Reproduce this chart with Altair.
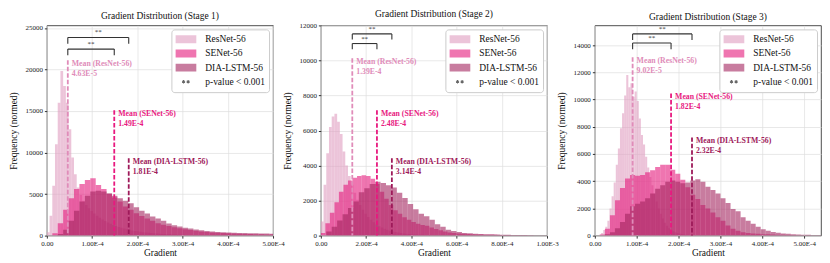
import math
import altair as alt
import pandas as pd

# ---------------- data ----------------
MODELS = ["ResNet-56", "SENet-56", "DIA-LSTM-56"]
PVAL = "p-value < 0.001"
STAGES = ["Gradient Distribution (Stage 1)",
          "Gradient Distribution (Stage 2)",
          "Gradient Distribution (Stage 3)"]

BIN_WIDTHS = [[0.06e-4, 0.12e-4, 0.12e-4],
              [0.12e-4, 0.20e-4, 0.24e-4],
              [0.05e-4, 0.12e-4, 0.12e-4]]

S1_RESNET = [400, 2400, 6000, 11000, 16000, 19800, 18000, 16000, 12800, 9400,
             7400, 5800, 4900, 4200, 3700, 3300, 2950, 2650, 2380, 2150,
             1950, 1760, 1590, 1430, 1290, 1160, 1040, 940, 850, 770,
             700, 630, 570, 515, 465, 420, 380, 345, 310, 280,
             255, 230, 210, 190, 170, 155, 140, 125, 112, 100,
             90, 80, 72, 65, 58, 52, 47, 42, 38, 34,
             30, 27, 24, 22, 20, 18, 16, 14, 13, 12,
             11, 10, 9, 8, 7, 6, 6, 5, 5, 4, 4, 3, 3]
S1_SENET = [0, 300, 1500, 3100, 4500, 5600, 6200, 6700, 6900, 6100,
            5600, 5000, 4600, 4100, 3500, 3100, 2700, 2350, 2050, 1800,
            1500, 1300, 1150, 1000, 880, 780, 680, 580, 500, 440,
            390, 350, 310, 280, 250, 230, 210, 195, 180, 165, 150, 140]
S1_DIA = [0, 0, 200, 700, 1800, 3000, 4100, 4800, 5300, 5400,
          5300, 5100, 4800, 4500, 4200, 3900, 3400, 3000, 2650, 2300,
          2050, 1800, 1450, 1250, 1100, 950, 850, 750, 650, 570,
          500, 450, 410, 380, 350, 330, 310, 295, 280, 265, 250, 240]

S2_RESNET = [800, 2900, 4700, 6200, 6800, 6950, 6500, 5800, 4800, 4000,
             3400, 2900, 2450, 2050, 1750, 1480, 1250, 1060, 900, 760,
             640, 540, 460, 390, 330, 280, 240, 205, 175, 150,
             128, 110, 94, 80, 68, 58, 50, 43, 37, 32, 27, 23]
S2_SENET = [150, 700, 1300, 1900, 2500, 2900, 3150, 3300, 3400, 3450,
            3400, 3250, 2950, 2500, 2100, 1750, 1450, 1250, 1050, 900,
            780, 680, 600, 560, 470, 380, 300, 230, 185, 150,
            120, 105, 90, 80, 70, 62, 55, 50, 45, 40,
            36, 32, 28, 25, 22, 19, 16, 14, 12, 10]
S2_DIA = [0, 230, 500, 860, 1220, 1580, 1950, 2480, 2700, 2950,
          3070, 3000, 2880, 2750, 2450, 2150, 1800, 1500, 1250, 1100,
          900, 650, 500, 340, 260, 200, 150, 130, 110, 95,
          85, 75, 65, 55, 48, 42, 37, 32, 28, 24, 20, 17]

S3_RESNET = [0, 0, 60, 200, 420, 650, 1100, 2000, 2900, 3900,
             5200, 6400, 7900, 9000, 10300, 11800, 10900, 11200, 10200, 10600,
             9900, 8600, 7400, 6700, 5800, 5000, 4300, 3700, 3100, 2500,
             2000, 1600, 1250, 950, 720, 550, 420, 320, 250, 190,
             150, 115, 90, 70, 55, 42, 33, 25, 19, 15]
S3_SENET = [0, 80, 500, 1500, 2600, 3500, 4200, 4450, 4400, 4450,
            4650, 4800, 5050, 5200, 5200, 4850, 4550, 4100, 3550, 3000,
            2700, 2250, 2000, 1700, 1350, 1100, 750, 500, 350, 250,
            200, 160, 130, 110, 95, 80, 65, 55, 45, 38, 30, 25, 20, 15, 12]
S3_DIA = [0, 0, 100, 250, 550, 1000, 1600, 2150, 2350, 2500,
          2750, 3100, 3450, 3700, 3950, 4050, 3950, 3850, 3900, 4050,
          4150, 3950, 3600, 3350, 3100, 2750, 2400, 1950, 1800, 1350,
          1100, 880, 650, 470, 350, 260, 210, 160, 140, 110, 80, 65, 55, 45, 38]

COUNTS = [[S1_RESNET, S1_SENET, S1_DIA],
          [S2_RESNET, S2_SENET, S2_DIA],
          [S3_RESNET, S3_SENET, S3_DIA]]

MEANS = [[4.63e-5, 1.49e-4, 1.81e-4],
         [1.39e-4, 2.48e-4, 3.14e-4],
         [9.02e-5, 1.82e-4, 2.32e-4]]
MEAN_TEXT = [["4.63E-5", "1.49E-4", "1.81E-4"],
             ["1.39E-4", "2.48E-4", "3.14E-4"],
             ["9.02E-5", "1.82E-4", "2.32E-4"]]
MEAN_TOPS = [[21100, 15100, 9300],
             [10120, 7150, 4420],
             [13100, 10450, 7220]]
BRACKET_Y = [[23850, 22450], [11515, 10965], [14826, 14152]]
BRACKET_TICK = [750, 323, 450]
SIG_TEXT = "**"

X_DOMAINS = [[0, 5e-4], [0, 1e-3], [0, 5.4e-4]]
X_TICKS = [[0, 1e-4, 2e-4, 3e-4, 4e-4, 5e-4],
           [0, 2e-4, 4e-4, 6e-4, 8e-4, 1e-3],
           [0, 1e-4, 2e-4, 3e-4, 4e-4, 5e-4]]
Y_DOMAINS = [[0, 25300], [0, 12000], [0, 15450]]
Y_TICKS = [[0, 5000, 10000, 15000, 20000, 25000],
           [0, 2000, 4000, 6000, 8000, 10000, 12000],
           [0, 2000, 4000, 6000, 8000, 10000, 12000, 14000]]

# ---------------- styles ----------------
SERIF = "Liberation Serif"
BAR_COLORS = ["#df9dbf", "#e5197c", "#a3255f"]
LINE_COLORS = ["#e08cb9", "#e8197f", "#9e1a5a"]
W, H = 227, 211

RECT_PATH = "M-1,-0.38L1,-0.38L1,0.38L-1,0.38Z"


def arm(cx, cy, ang, L=0.16, t=0.05):
    a = math.radians(ang)
    dx, dy = math.cos(a), math.sin(a)
    nx, ny = -dy, dx
    pts = [(cx + L * dx + t * nx, cy + L * dy + t * ny),
           (cx + L * dx - t * nx, cy + L * dy - t * ny),
           (cx - L * dx - t * nx, cy - L * dy - t * ny),
           (cx - L * dx + t * nx, cy - L * dy + t * ny)]
    return "M" + "L".join(f"{x:.3f},{y:.3f}" for x, y in pts) + "Z"


STAR_PATH = "".join(arm(cx, 0.0, a) for cx in (-0.22, 0.22) for a in (90, 30, 150))
DOMAIN_ALL = MODELS + [PVAL]

LEG = alt.Legend(title=None, orient="top-right", offset=4, padding=4,
                 strokeColor="#cccccc", fillColor="white", cornerRadius=3,
                 labelFont=SERIF, labelFontSize=9.5, labelColor="#111",
                 symbolSize=441, clipHeight=12, rowPadding=2.2, labelOffset=9,
                 symbolStrokeWidth=0)

X_LABEL_EXPR = "datum.value == 0 ? '0.00' : upper(format(datum.value, '.2e'))"


def panel(i):
    rows = []
    for m, w, counts in zip(MODELS, BIN_WIDTHS[i], COUNTS[i]):
        for k, c in enumerate(counts):
            rows.append({"model": m, "x0": k * w, "x1": (k + 1) * w,
                         "count": c, "base": 0})
    hist = pd.DataFrame(rows)

    xs = alt.Scale(domain=X_DOMAINS[i], nice=False, zero=False)
    ys = alt.Scale(domain=Y_DOMAINS[i], nice=False)
    cscale = alt.Scale(domain=DOMAIN_ALL, range=BAR_COLORS + ["#000000"])

    xaxis = alt.Axis(values=X_TICKS[i], labelExpr=X_LABEL_EXPR, title="Gradient",
                     labelFlush=False, labelOverlap=False, labelPadding=1,
                     titlePadding=1, tickSize=2.5)
    yaxis = alt.Axis(values=Y_TICKS[i], format="d", title="Frequency (normed)",
                     labelPadding=2, titlePadding=6, tickSize=2.5, labelOverlap=False)

    def X(f):
        return alt.X(f, scale=xs, axis=xaxis)

    def Y(f):
        return alt.Y(f, scale=ys, axis=yaxis)

    bars = alt.Chart(hist).mark_rect(opacity=0.6, clip=True, strokeWidth=0).encode(
        x=X("x0:Q"), x2="x1:Q",
        y=Y("count:Q"), y2="base:Q",
        color=alt.Color("model:N", scale=cscale, legend=LEG),
    )

    means_df = pd.DataFrame({
        "model": MODELS,
        "mean": MEANS[i],
        "top": MEAN_TOPS[i],
        "base": [0, 0, 0],
        "clr": LINE_COLORS,
        "label": [f"Mean ({m})\n{t}" for m, t in zip(MODELS, MEAN_TEXT[i])],
    })
    rules = alt.Chart(means_df).mark_rule(strokeDash=[4.5, 2], strokeWidth=1.8).encode(
        x=X("mean:Q"), y=Y("top:Q"), y2="base:Q",
        color=alt.Color("clr:N", scale=None),
    )
    labels = alt.Chart(means_df).mark_text(
        align="left", baseline="top", dx=4, dy=0, font=SERIF, fontSize=7.8,
        fontWeight="bold", lineBreak="\n", lineHeight=10).encode(
        x=X("mean:Q"), y=Y("top:Q"),
        text="label:N",
        color=alt.Color("clr:N", scale=None),
    )

    m0 = MEANS[i][0]
    segs, stars = [], []
    for by, other in zip(BRACKET_Y[i], [MEANS[i][2], MEANS[i][1]]):
        tk = BRACKET_TICK[i]
        segs.append({"xa": m0, "xb": other, "ya": by, "yb": by})
        segs.append({"xa": m0, "xb": m0, "ya": by, "yb": by - tk})
        segs.append({"xa": other, "xb": other, "ya": by, "yb": by - tk})
        stars.append({"xm": (m0 + other) / 2, "y": by, "t": SIG_TEXT})
    brackets = alt.Chart(pd.DataFrame(segs)).mark_rule(color="#333333", strokeWidth=1.1).encode(
        x=X("xa:Q"), x2="xb:Q", y=Y("ya:Q"), y2="yb:Q",
    )
    star_text = alt.Chart(pd.DataFrame(stars)).mark_text(
        font=SERIF, fontSize=7, color="#333333", baseline="middle", dy=-5).encode(
        x=X("xm:Q"), y=Y("y:Q"), text="t:N",
    )

    # invisible layer that only contributes legend symbols (shape per entry)
    legend_layer = alt.Chart(hist).transform_filter("false").mark_point(
        filled=True, opacity=0.6).encode(
        x=X("x0:Q"), y=Y("count:Q"),
        color=alt.Color("model:N", scale=cscale, legend=LEG),
        shape=alt.Shape("model:N", scale=alt.Scale(domain=DOMAIN_ALL,
                        range=[RECT_PATH] * 3 + [STAR_PATH]), legend=LEG),
        opacity=alt.Opacity("model:N", scale=alt.Scale(domain=DOMAIN_ALL,
                            range=[0.6, 0.6, 0.6, 1.0]), legend=LEG),
    )

    return alt.layer(bars, rules, labels, brackets, star_text, legend_layer).properties(
        width=W, height=H,
        title=alt.TitleParams(STAGES[i], font=SERIF, fontSize=9.5, fontWeight="normal",
                              offset=3, color="#111"),
    )


chart = alt.HConcatChart(
    hconcat=[panel(0), panel(1), panel(2)],
    spacing=-3,
    padding=0,
).resolve_scale(
    x="independent", y="independent", color="independent",
    shape="independent", opacity="independent",
).resolve_legend(
    color="independent", shape="independent", opacity="independent",
).configure_view(
    stroke="#222222", strokeWidth=0.8,
).configure_axis(
    labelFont=SERIF, titleFont=SERIF, labelFontSize=7, titleFontSize=9.5,
    titleFontWeight="normal", labelColor="#222", titleColor="#111",
    grid=True, gridColor="#dedede", gridWidth=0.7, domain=False,
    tickColor="#333333",
)

chart.save("out.html", embed_options={"renderer": "svg", "actions": False})
